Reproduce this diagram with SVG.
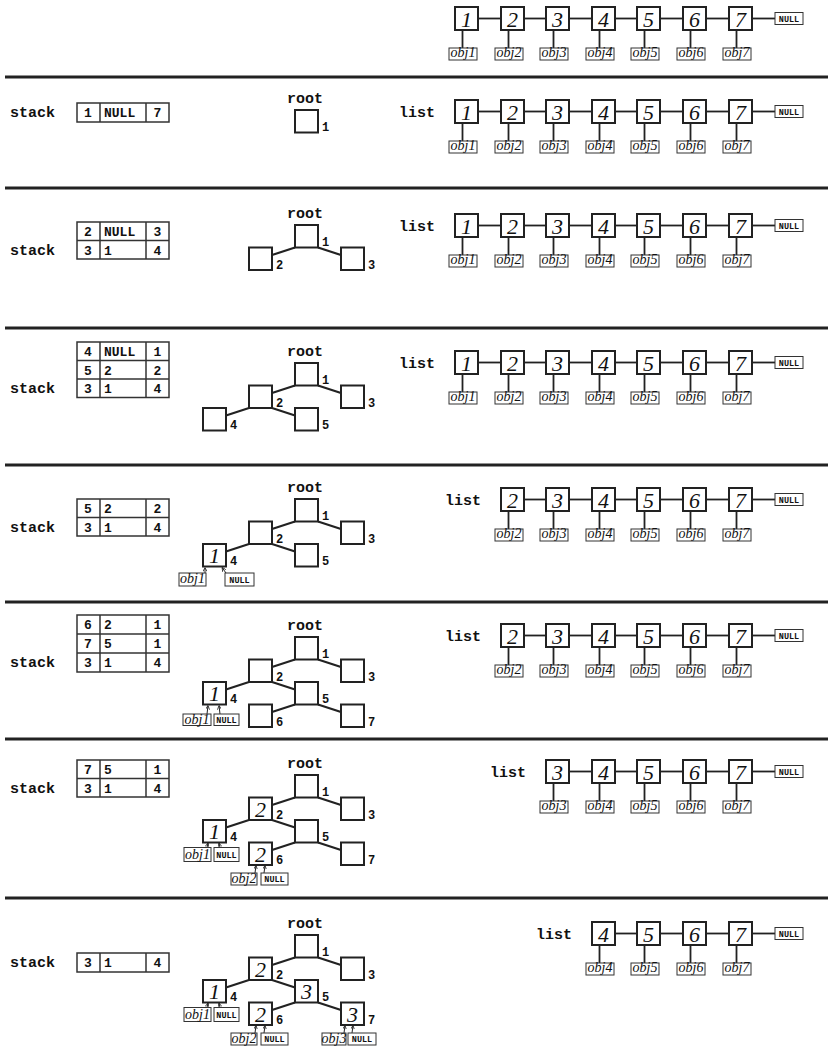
<svg xmlns="http://www.w3.org/2000/svg" width="833" height="1046" viewBox="0 0 833 1046">
<style>
.sep{stroke:#222;stroke-width:3}
.lb{fill:#fff;stroke:#222;stroke-width:2}
.ob{fill:#fff;stroke:#333;stroke-width:1}
.tb{fill:#fff;stroke:#222;stroke-width:2}
.tab{fill:none;stroke:#333;stroke-width:1.5}
.conn line{stroke:#222;stroke-width:1.8}
.edges line{stroke:#222;stroke-width:2.2}
.ptr line{stroke:#222;stroke-width:1}
.lbl{font-family:"Liberation Mono",monospace;font-weight:bold;font-size:15px;fill:#111}
.num{font-family:"Liberation Serif",serif;font-style:italic;font-size:22px;text-anchor:middle;fill:#111}
.obj{font-family:"Liberation Serif",serif;font-style:italic;font-size:14px;text-anchor:middle;fill:#111}
.nul{font-family:"Liberation Mono",monospace;font-weight:bold;font-size:8.5px;text-anchor:middle;fill:#111}
.cell{font-family:"Liberation Mono",monospace;font-weight:bold;font-size:13px;fill:#111}
.c1,.c3{text-anchor:middle}
.tl{font-family:"Liberation Mono",monospace;font-weight:bold;font-size:12px;fill:#111}
.root{font-family:"Liberation Mono",monospace;font-weight:bold;font-size:15px;text-anchor:middle;fill:#111}
</style>
<defs>
<marker id="ah" viewBox="0 0 6 6" refX="6" refY="3" markerWidth="4" markerHeight="4" orient="auto" markerUnits="userSpaceOnUse"><path d="M0,0 L6,3 L0,6" fill="none" stroke="#222" stroke-width="1.2"/></marker>
</defs>

<g id="separators">
<line class="sep" x1="5" y1="77" x2="828" y2="77"/>
<line class="sep" x1="5" y1="188" x2="828" y2="188"/>
<line class="sep" x1="5" y1="328" x2="828" y2="328"/>
<line class="sep" x1="5" y1="465" x2="828" y2="465"/>
<line class="sep" x1="5" y1="602" x2="828" y2="602"/>
<line class="sep" x1="5" y1="739" x2="828" y2="739"/>
<line class="sep" x1="5" y1="898" x2="828" y2="898"/>
</g>

<!-- ===== LIST ROWS ===== -->
<g id="list0" transform="translate(0,7)">
<g class="conn">
<line x1="478" y1="11.5" x2="501" y2="11.5"/><line x1="524" y1="11.5" x2="546" y2="11.5"/><line x1="569" y1="11.5" x2="592" y2="11.5"/><line x1="615" y1="11.5" x2="637" y2="11.5"/><line x1="660" y1="11.5" x2="683" y2="11.5"/><line x1="706" y1="11.5" x2="729" y2="11.5"/><line x1="752" y1="11.5" x2="775" y2="11.5"/>
<line x1="462.5" y1="23" x2="462.5" y2="41"/><line x1="508.5" y1="23" x2="508.5" y2="41"/><line x1="553.5" y1="23" x2="553.5" y2="41"/><line x1="599.5" y1="23" x2="599.5" y2="41"/><line x1="644.5" y1="23" x2="644.5" y2="41"/><line x1="690.5" y1="23" x2="690.5" y2="41"/><line x1="736.5" y1="23" x2="736.5" y2="41"/>
</g>
<g id="l0-1"><rect class="lb" x="455" y="0" width="23" height="23"/><text class="num" x="466.5" y="19.5">1</text></g>
<g id="l0-2"><rect class="lb" x="501" y="0" width="23" height="23"/><text class="num" x="512.5" y="19.5">2</text></g>
<g id="l0-3"><rect class="lb" x="546" y="0" width="23" height="23"/><text class="num" x="557.5" y="19.5">3</text></g>
<g id="l0-4"><rect class="lb" x="592" y="0" width="23" height="23"/><text class="num" x="603.5" y="19.5">4</text></g>
<g id="l0-5"><rect class="lb" x="637" y="0" width="23" height="23"/><text class="num" x="648.5" y="19.5">5</text></g>
<g id="l0-6"><rect class="lb" x="683" y="0" width="23" height="23"/><text class="num" x="694.5" y="19.5">6</text></g>
<g id="l0-7"><rect class="lb" x="729" y="0" width="23" height="23"/><text class="num" x="740.5" y="19.5">7</text></g>
<g id="l0-obj1"><rect class="ob" x="449" y="41" width="28" height="12"/><text class="obj" x="463" y="50">obj1</text></g>
<g id="l0-obj2"><rect class="ob" x="495" y="41" width="28" height="12"/><text class="obj" x="509" y="50">obj2</text></g>
<g id="l0-obj3"><rect class="ob" x="540" y="41" width="28" height="12"/><text class="obj" x="554" y="50">obj3</text></g>
<g id="l0-obj4"><rect class="ob" x="586" y="41" width="28" height="12"/><text class="obj" x="600" y="50">obj4</text></g>
<g id="l0-obj5"><rect class="ob" x="631" y="41" width="28" height="12"/><text class="obj" x="645" y="50">obj5</text></g>
<g id="l0-obj6"><rect class="ob" x="677" y="41" width="28" height="12"/><text class="obj" x="691" y="50">obj6</text></g>
<g id="l0-obj7"><rect class="ob" x="723" y="41" width="28" height="12"/><text class="obj" x="737" y="50">obj7</text></g>
<g id="l0-null"><rect class="ob" x="775" y="5.5" width="28" height="12"/><text class="nul" x="789" y="14.5">NULL</text></g>
</g>

<g id="list1" transform="translate(0,100)">
<text class="lbl" x="435" y="16.5" text-anchor="end">list</text>
<g class="conn">
<line x1="478" y1="11.5" x2="501" y2="11.5"/><line x1="524" y1="11.5" x2="546" y2="11.5"/><line x1="569" y1="11.5" x2="592" y2="11.5"/><line x1="615" y1="11.5" x2="637" y2="11.5"/><line x1="660" y1="11.5" x2="683" y2="11.5"/><line x1="706" y1="11.5" x2="729" y2="11.5"/><line x1="752" y1="11.5" x2="775" y2="11.5"/>
<line x1="462.5" y1="23" x2="462.5" y2="41"/><line x1="508.5" y1="23" x2="508.5" y2="41"/><line x1="553.5" y1="23" x2="553.5" y2="41"/><line x1="599.5" y1="23" x2="599.5" y2="41"/><line x1="644.5" y1="23" x2="644.5" y2="41"/><line x1="690.5" y1="23" x2="690.5" y2="41"/><line x1="736.5" y1="23" x2="736.5" y2="41"/>
</g>
<g id="l1-1"><rect class="lb" x="455" y="0" width="23" height="23"/><text class="num" x="466.5" y="19.5">1</text></g>
<g id="l1-2"><rect class="lb" x="501" y="0" width="23" height="23"/><text class="num" x="512.5" y="19.5">2</text></g>
<g id="l1-3"><rect class="lb" x="546" y="0" width="23" height="23"/><text class="num" x="557.5" y="19.5">3</text></g>
<g id="l1-4"><rect class="lb" x="592" y="0" width="23" height="23"/><text class="num" x="603.5" y="19.5">4</text></g>
<g id="l1-5"><rect class="lb" x="637" y="0" width="23" height="23"/><text class="num" x="648.5" y="19.5">5</text></g>
<g id="l1-6"><rect class="lb" x="683" y="0" width="23" height="23"/><text class="num" x="694.5" y="19.5">6</text></g>
<g id="l1-7"><rect class="lb" x="729" y="0" width="23" height="23"/><text class="num" x="740.5" y="19.5">7</text></g>
<g id="l1-obj1"><rect class="ob" x="449" y="41" width="28" height="12"/><text class="obj" x="463" y="50">obj1</text></g>
<g id="l1-obj2"><rect class="ob" x="495" y="41" width="28" height="12"/><text class="obj" x="509" y="50">obj2</text></g>
<g id="l1-obj3"><rect class="ob" x="540" y="41" width="28" height="12"/><text class="obj" x="554" y="50">obj3</text></g>
<g id="l1-obj4"><rect class="ob" x="586" y="41" width="28" height="12"/><text class="obj" x="600" y="50">obj4</text></g>
<g id="l1-obj5"><rect class="ob" x="631" y="41" width="28" height="12"/><text class="obj" x="645" y="50">obj5</text></g>
<g id="l1-obj6"><rect class="ob" x="677" y="41" width="28" height="12"/><text class="obj" x="691" y="50">obj6</text></g>
<g id="l1-obj7"><rect class="ob" x="723" y="41" width="28" height="12"/><text class="obj" x="737" y="50">obj7</text></g>
<g id="l1-null"><rect class="ob" x="775" y="5.5" width="28" height="12"/><text class="nul" x="789" y="14.5">NULL</text></g>
</g>

<g id="list2" transform="translate(0,214)">
<text class="lbl" x="435" y="16.5" text-anchor="end">list</text>
<g class="conn">
<line x1="478" y1="11.5" x2="501" y2="11.5"/><line x1="524" y1="11.5" x2="546" y2="11.5"/><line x1="569" y1="11.5" x2="592" y2="11.5"/><line x1="615" y1="11.5" x2="637" y2="11.5"/><line x1="660" y1="11.5" x2="683" y2="11.5"/><line x1="706" y1="11.5" x2="729" y2="11.5"/><line x1="752" y1="11.5" x2="775" y2="11.5"/>
<line x1="462.5" y1="23" x2="462.5" y2="41"/><line x1="508.5" y1="23" x2="508.5" y2="41"/><line x1="553.5" y1="23" x2="553.5" y2="41"/><line x1="599.5" y1="23" x2="599.5" y2="41"/><line x1="644.5" y1="23" x2="644.5" y2="41"/><line x1="690.5" y1="23" x2="690.5" y2="41"/><line x1="736.5" y1="23" x2="736.5" y2="41"/>
</g>
<g id="l2-1"><rect class="lb" x="455" y="0" width="23" height="23"/><text class="num" x="466.5" y="19.5">1</text></g>
<g id="l2-2"><rect class="lb" x="501" y="0" width="23" height="23"/><text class="num" x="512.5" y="19.5">2</text></g>
<g id="l2-3"><rect class="lb" x="546" y="0" width="23" height="23"/><text class="num" x="557.5" y="19.5">3</text></g>
<g id="l2-4"><rect class="lb" x="592" y="0" width="23" height="23"/><text class="num" x="603.5" y="19.5">4</text></g>
<g id="l2-5"><rect class="lb" x="637" y="0" width="23" height="23"/><text class="num" x="648.5" y="19.5">5</text></g>
<g id="l2-6"><rect class="lb" x="683" y="0" width="23" height="23"/><text class="num" x="694.5" y="19.5">6</text></g>
<g id="l2-7"><rect class="lb" x="729" y="0" width="23" height="23"/><text class="num" x="740.5" y="19.5">7</text></g>
<g id="l2-obj1"><rect class="ob" x="449" y="41" width="28" height="12"/><text class="obj" x="463" y="50">obj1</text></g>
<g id="l2-obj2"><rect class="ob" x="495" y="41" width="28" height="12"/><text class="obj" x="509" y="50">obj2</text></g>
<g id="l2-obj3"><rect class="ob" x="540" y="41" width="28" height="12"/><text class="obj" x="554" y="50">obj3</text></g>
<g id="l2-obj4"><rect class="ob" x="586" y="41" width="28" height="12"/><text class="obj" x="600" y="50">obj4</text></g>
<g id="l2-obj5"><rect class="ob" x="631" y="41" width="28" height="12"/><text class="obj" x="645" y="50">obj5</text></g>
<g id="l2-obj6"><rect class="ob" x="677" y="41" width="28" height="12"/><text class="obj" x="691" y="50">obj6</text></g>
<g id="l2-obj7"><rect class="ob" x="723" y="41" width="28" height="12"/><text class="obj" x="737" y="50">obj7</text></g>
<g id="l2-null"><rect class="ob" x="775" y="5.5" width="28" height="12"/><text class="nul" x="789" y="14.5">NULL</text></g>
</g>

<g id="list3" transform="translate(0,351)">
<text class="lbl" x="435" y="16.5" text-anchor="end">list</text>
<g class="conn">
<line x1="478" y1="11.5" x2="501" y2="11.5"/><line x1="524" y1="11.5" x2="546" y2="11.5"/><line x1="569" y1="11.5" x2="592" y2="11.5"/><line x1="615" y1="11.5" x2="637" y2="11.5"/><line x1="660" y1="11.5" x2="683" y2="11.5"/><line x1="706" y1="11.5" x2="729" y2="11.5"/><line x1="752" y1="11.5" x2="775" y2="11.5"/>
<line x1="462.5" y1="23" x2="462.5" y2="41"/><line x1="508.5" y1="23" x2="508.5" y2="41"/><line x1="553.5" y1="23" x2="553.5" y2="41"/><line x1="599.5" y1="23" x2="599.5" y2="41"/><line x1="644.5" y1="23" x2="644.5" y2="41"/><line x1="690.5" y1="23" x2="690.5" y2="41"/><line x1="736.5" y1="23" x2="736.5" y2="41"/>
</g>
<g id="l3-1"><rect class="lb" x="455" y="0" width="23" height="23"/><text class="num" x="466.5" y="19.5">1</text></g>
<g id="l3-2"><rect class="lb" x="501" y="0" width="23" height="23"/><text class="num" x="512.5" y="19.5">2</text></g>
<g id="l3-3"><rect class="lb" x="546" y="0" width="23" height="23"/><text class="num" x="557.5" y="19.5">3</text></g>
<g id="l3-4"><rect class="lb" x="592" y="0" width="23" height="23"/><text class="num" x="603.5" y="19.5">4</text></g>
<g id="l3-5"><rect class="lb" x="637" y="0" width="23" height="23"/><text class="num" x="648.5" y="19.5">5</text></g>
<g id="l3-6"><rect class="lb" x="683" y="0" width="23" height="23"/><text class="num" x="694.5" y="19.5">6</text></g>
<g id="l3-7"><rect class="lb" x="729" y="0" width="23" height="23"/><text class="num" x="740.5" y="19.5">7</text></g>
<g id="l3-obj1"><rect class="ob" x="449" y="41" width="28" height="12"/><text class="obj" x="463" y="50">obj1</text></g>
<g id="l3-obj2"><rect class="ob" x="495" y="41" width="28" height="12"/><text class="obj" x="509" y="50">obj2</text></g>
<g id="l3-obj3"><rect class="ob" x="540" y="41" width="28" height="12"/><text class="obj" x="554" y="50">obj3</text></g>
<g id="l3-obj4"><rect class="ob" x="586" y="41" width="28" height="12"/><text class="obj" x="600" y="50">obj4</text></g>
<g id="l3-obj5"><rect class="ob" x="631" y="41" width="28" height="12"/><text class="obj" x="645" y="50">obj5</text></g>
<g id="l3-obj6"><rect class="ob" x="677" y="41" width="28" height="12"/><text class="obj" x="691" y="50">obj6</text></g>
<g id="l3-obj7"><rect class="ob" x="723" y="41" width="28" height="12"/><text class="obj" x="737" y="50">obj7</text></g>
<g id="l3-null"><rect class="ob" x="775" y="5.5" width="28" height="12"/><text class="nul" x="789" y="14.5">NULL</text></g>
</g>

<g id="list4" transform="translate(0,488)">
<text class="lbl" x="481" y="16.5" text-anchor="end">list</text>
<g class="conn">
<line x1="524" y1="11.5" x2="546" y2="11.5"/><line x1="569" y1="11.5" x2="592" y2="11.5"/><line x1="615" y1="11.5" x2="637" y2="11.5"/><line x1="660" y1="11.5" x2="683" y2="11.5"/><line x1="706" y1="11.5" x2="729" y2="11.5"/><line x1="752" y1="11.5" x2="775" y2="11.5"/>
<line x1="508.5" y1="23" x2="508.5" y2="41"/><line x1="553.5" y1="23" x2="553.5" y2="41"/><line x1="599.5" y1="23" x2="599.5" y2="41"/><line x1="644.5" y1="23" x2="644.5" y2="41"/><line x1="690.5" y1="23" x2="690.5" y2="41"/><line x1="736.5" y1="23" x2="736.5" y2="41"/>
</g>
<g id="l4-2"><rect class="lb" x="501" y="0" width="23" height="23"/><text class="num" x="512.5" y="19.5">2</text></g>
<g id="l4-3"><rect class="lb" x="546" y="0" width="23" height="23"/><text class="num" x="557.5" y="19.5">3</text></g>
<g id="l4-4"><rect class="lb" x="592" y="0" width="23" height="23"/><text class="num" x="603.5" y="19.5">4</text></g>
<g id="l4-5"><rect class="lb" x="637" y="0" width="23" height="23"/><text class="num" x="648.5" y="19.5">5</text></g>
<g id="l4-6"><rect class="lb" x="683" y="0" width="23" height="23"/><text class="num" x="694.5" y="19.5">6</text></g>
<g id="l4-7"><rect class="lb" x="729" y="0" width="23" height="23"/><text class="num" x="740.5" y="19.5">7</text></g>
<g id="l4-obj2"><rect class="ob" x="495" y="41" width="28" height="12"/><text class="obj" x="509" y="50">obj2</text></g>
<g id="l4-obj3"><rect class="ob" x="540" y="41" width="28" height="12"/><text class="obj" x="554" y="50">obj3</text></g>
<g id="l4-obj4"><rect class="ob" x="586" y="41" width="28" height="12"/><text class="obj" x="600" y="50">obj4</text></g>
<g id="l4-obj5"><rect class="ob" x="631" y="41" width="28" height="12"/><text class="obj" x="645" y="50">obj5</text></g>
<g id="l4-obj6"><rect class="ob" x="677" y="41" width="28" height="12"/><text class="obj" x="691" y="50">obj6</text></g>
<g id="l4-obj7"><rect class="ob" x="723" y="41" width="28" height="12"/><text class="obj" x="737" y="50">obj7</text></g>
<g id="l4-null"><rect class="ob" x="775" y="5.5" width="28" height="12"/><text class="nul" x="789" y="14.5">NULL</text></g>
</g>

<g id="list5" transform="translate(0,624)">
<text class="lbl" x="481" y="16.5" text-anchor="end">list</text>
<g class="conn">
<line x1="524" y1="11.5" x2="546" y2="11.5"/><line x1="569" y1="11.5" x2="592" y2="11.5"/><line x1="615" y1="11.5" x2="637" y2="11.5"/><line x1="660" y1="11.5" x2="683" y2="11.5"/><line x1="706" y1="11.5" x2="729" y2="11.5"/><line x1="752" y1="11.5" x2="775" y2="11.5"/>
<line x1="508.5" y1="23" x2="508.5" y2="41"/><line x1="553.5" y1="23" x2="553.5" y2="41"/><line x1="599.5" y1="23" x2="599.5" y2="41"/><line x1="644.5" y1="23" x2="644.5" y2="41"/><line x1="690.5" y1="23" x2="690.5" y2="41"/><line x1="736.5" y1="23" x2="736.5" y2="41"/>
</g>
<g id="l5-2"><rect class="lb" x="501" y="0" width="23" height="23"/><text class="num" x="512.5" y="19.5">2</text></g>
<g id="l5-3"><rect class="lb" x="546" y="0" width="23" height="23"/><text class="num" x="557.5" y="19.5">3</text></g>
<g id="l5-4"><rect class="lb" x="592" y="0" width="23" height="23"/><text class="num" x="603.5" y="19.5">4</text></g>
<g id="l5-5"><rect class="lb" x="637" y="0" width="23" height="23"/><text class="num" x="648.5" y="19.5">5</text></g>
<g id="l5-6"><rect class="lb" x="683" y="0" width="23" height="23"/><text class="num" x="694.5" y="19.5">6</text></g>
<g id="l5-7"><rect class="lb" x="729" y="0" width="23" height="23"/><text class="num" x="740.5" y="19.5">7</text></g>
<g id="l5-obj2"><rect class="ob" x="495" y="41" width="28" height="12"/><text class="obj" x="509" y="50">obj2</text></g>
<g id="l5-obj3"><rect class="ob" x="540" y="41" width="28" height="12"/><text class="obj" x="554" y="50">obj3</text></g>
<g id="l5-obj4"><rect class="ob" x="586" y="41" width="28" height="12"/><text class="obj" x="600" y="50">obj4</text></g>
<g id="l5-obj5"><rect class="ob" x="631" y="41" width="28" height="12"/><text class="obj" x="645" y="50">obj5</text></g>
<g id="l5-obj6"><rect class="ob" x="677" y="41" width="28" height="12"/><text class="obj" x="691" y="50">obj6</text></g>
<g id="l5-obj7"><rect class="ob" x="723" y="41" width="28" height="12"/><text class="obj" x="737" y="50">obj7</text></g>
<g id="l5-null"><rect class="ob" x="775" y="5.5" width="28" height="12"/><text class="nul" x="789" y="14.5">NULL</text></g>
</g>

<g id="list6" transform="translate(0,760)">
<text class="lbl" x="526" y="16.5" text-anchor="end">list</text>
<g class="conn">
<line x1="569" y1="11.5" x2="592" y2="11.5"/><line x1="615" y1="11.5" x2="637" y2="11.5"/><line x1="660" y1="11.5" x2="683" y2="11.5"/><line x1="706" y1="11.5" x2="729" y2="11.5"/><line x1="752" y1="11.5" x2="775" y2="11.5"/>
<line x1="553.5" y1="23" x2="553.5" y2="41"/><line x1="599.5" y1="23" x2="599.5" y2="41"/><line x1="644.5" y1="23" x2="644.5" y2="41"/><line x1="690.5" y1="23" x2="690.5" y2="41"/><line x1="736.5" y1="23" x2="736.5" y2="41"/>
</g>
<g id="l6-3"><rect class="lb" x="546" y="0" width="23" height="23"/><text class="num" x="557.5" y="19.5">3</text></g>
<g id="l6-4"><rect class="lb" x="592" y="0" width="23" height="23"/><text class="num" x="603.5" y="19.5">4</text></g>
<g id="l6-5"><rect class="lb" x="637" y="0" width="23" height="23"/><text class="num" x="648.5" y="19.5">5</text></g>
<g id="l6-6"><rect class="lb" x="683" y="0" width="23" height="23"/><text class="num" x="694.5" y="19.5">6</text></g>
<g id="l6-7"><rect class="lb" x="729" y="0" width="23" height="23"/><text class="num" x="740.5" y="19.5">7</text></g>
<g id="l6-obj3"><rect class="ob" x="540" y="41" width="28" height="12"/><text class="obj" x="554" y="50">obj3</text></g>
<g id="l6-obj4"><rect class="ob" x="586" y="41" width="28" height="12"/><text class="obj" x="600" y="50">obj4</text></g>
<g id="l6-obj5"><rect class="ob" x="631" y="41" width="28" height="12"/><text class="obj" x="645" y="50">obj5</text></g>
<g id="l6-obj6"><rect class="ob" x="677" y="41" width="28" height="12"/><text class="obj" x="691" y="50">obj6</text></g>
<g id="l6-obj7"><rect class="ob" x="723" y="41" width="28" height="12"/><text class="obj" x="737" y="50">obj7</text></g>
<g id="l6-null"><rect class="ob" x="775" y="5.5" width="28" height="12"/><text class="nul" x="789" y="14.5">NULL</text></g>
</g>

<g id="list7" transform="translate(0,922)">
<text class="lbl" x="572" y="16.5" text-anchor="end">list</text>
<g class="conn">
<line x1="615" y1="11.5" x2="637" y2="11.5"/><line x1="660" y1="11.5" x2="683" y2="11.5"/><line x1="706" y1="11.5" x2="729" y2="11.5"/><line x1="752" y1="11.5" x2="775" y2="11.5"/>
<line x1="599.5" y1="23" x2="599.5" y2="41"/><line x1="644.5" y1="23" x2="644.5" y2="41"/><line x1="690.5" y1="23" x2="690.5" y2="41"/><line x1="736.5" y1="23" x2="736.5" y2="41"/>
</g>
<g id="l7-4"><rect class="lb" x="592" y="0" width="23" height="23"/><text class="num" x="603.5" y="19.5">4</text></g>
<g id="l7-5"><rect class="lb" x="637" y="0" width="23" height="23"/><text class="num" x="648.5" y="19.5">5</text></g>
<g id="l7-6"><rect class="lb" x="683" y="0" width="23" height="23"/><text class="num" x="694.5" y="19.5">6</text></g>
<g id="l7-7"><rect class="lb" x="729" y="0" width="23" height="23"/><text class="num" x="740.5" y="19.5">7</text></g>
<g id="l7-obj4"><rect class="ob" x="586" y="41" width="28" height="12"/><text class="obj" x="600" y="50">obj4</text></g>
<g id="l7-obj5"><rect class="ob" x="631" y="41" width="28" height="12"/><text class="obj" x="645" y="50">obj5</text></g>
<g id="l7-obj6"><rect class="ob" x="677" y="41" width="28" height="12"/><text class="obj" x="691" y="50">obj6</text></g>
<g id="l7-obj7"><rect class="ob" x="723" y="41" width="28" height="12"/><text class="obj" x="737" y="50">obj7</text></g>
<g id="l7-null"><rect class="ob" x="775" y="5.5" width="28" height="12"/><text class="nul" x="789" y="14.5">NULL</text></g>
</g>

<!-- ===== STACKS ===== -->
<g id="stack1">
<text class="lbl" x="10" y="117">stack</text>
<rect class="tab" x="77" y="103" width="92" height="19"/>
<line class="tab" x1="100" y1="103" x2="100" y2="122"/><line class="tab" x1="146" y1="103" x2="146" y2="122"/>
<text class="cell c1" x="88" y="117">1</text><text class="cell" x="104" y="117">NULL</text><text class="cell c3" x="157.5" y="117">7</text>
</g>
<g id="stack2">
<text class="lbl" x="10" y="255">stack</text>
<rect class="tab" x="77" y="222" width="92" height="37"/>
<line class="tab" x1="77" y1="240.5" x2="169" y2="240.5"/>
<line class="tab" x1="100" y1="222" x2="100" y2="259"/><line class="tab" x1="146" y1="222" x2="146" y2="259"/>
<text class="cell c1" x="88" y="236">2</text><text class="cell" x="104" y="236">NULL</text><text class="cell c3" x="157.5" y="236">3</text>
<text class="cell c1" x="88" y="254.5">3</text><text class="cell" x="104" y="254.5">1</text><text class="cell c3" x="157.5" y="254.5">4</text>
</g>
<g id="stack3">
<text class="lbl" x="10" y="393">stack</text>
<rect class="tab" x="77" y="342" width="92" height="55.5"/>
<line class="tab" x1="77" y1="360.5" x2="169" y2="360.5"/><line class="tab" x1="77" y1="379" x2="169" y2="379"/>
<line class="tab" x1="100" y1="342" x2="100" y2="397.5"/><line class="tab" x1="146" y1="342" x2="146" y2="397.5"/>
<text class="cell c1" x="88" y="356">4</text><text class="cell" x="104" y="356">NULL</text><text class="cell c3" x="157.5" y="356">1</text>
<text class="cell c1" x="88" y="374.5">5</text><text class="cell" x="104" y="374.5">2</text><text class="cell c3" x="157.5" y="374.5">2</text>
<text class="cell c1" x="88" y="393">3</text><text class="cell" x="104" y="393">1</text><text class="cell c3" x="157.5" y="393">4</text>
</g>
<g id="stack4">
<text class="lbl" x="10" y="532">stack</text>
<rect class="tab" x="77" y="499" width="92" height="37"/>
<line class="tab" x1="77" y1="517.5" x2="169" y2="517.5"/>
<line class="tab" x1="100" y1="499" x2="100" y2="536"/><line class="tab" x1="146" y1="499" x2="146" y2="536"/>
<text class="cell c1" x="88" y="513">5</text><text class="cell" x="104" y="513">2</text><text class="cell c3" x="157.5" y="513">2</text>
<text class="cell c1" x="88" y="531.5">3</text><text class="cell" x="104" y="531.5">1</text><text class="cell c3" x="157.5" y="531.5">4</text>
</g>
<g id="stack5">
<text class="lbl" x="10" y="667">stack</text>
<rect class="tab" x="77" y="615" width="92" height="57"/>
<line class="tab" x1="77" y1="634" x2="169" y2="634"/><line class="tab" x1="77" y1="653" x2="169" y2="653"/>
<line class="tab" x1="100" y1="615" x2="100" y2="672"/><line class="tab" x1="146" y1="615" x2="146" y2="672"/>
<text class="cell c1" x="88" y="629">6</text><text class="cell" x="104" y="629">2</text><text class="cell c3" x="157.5" y="629">1</text>
<text class="cell c1" x="88" y="648">7</text><text class="cell" x="104" y="648">5</text><text class="cell c3" x="157.5" y="648">1</text>
<text class="cell c1" x="88" y="667">3</text><text class="cell" x="104" y="667">1</text><text class="cell c3" x="157.5" y="667">4</text>
</g>
<g id="stack6">
<text class="lbl" x="10" y="793">stack</text>
<rect class="tab" x="77" y="760" width="92" height="37"/>
<line class="tab" x1="77" y1="778.5" x2="169" y2="778.5"/>
<line class="tab" x1="100" y1="760" x2="100" y2="797"/><line class="tab" x1="146" y1="760" x2="146" y2="797"/>
<text class="cell c1" x="88" y="774">7</text><text class="cell" x="104" y="774">5</text><text class="cell c3" x="157.5" y="774">1</text>
<text class="cell c1" x="88" y="792.5">3</text><text class="cell" x="104" y="792.5">1</text><text class="cell c3" x="157.5" y="792.5">4</text>
</g>
<g id="stack7">
<text class="lbl" x="10" y="967">stack</text>
<rect class="tab" x="77" y="953" width="92" height="19"/>
<line class="tab" x1="100" y1="953" x2="100" y2="972"/><line class="tab" x1="146" y1="953" x2="146" y2="972"/>
<text class="cell c1" x="88" y="967">3</text><text class="cell" x="104" y="967">1</text><text class="cell c3" x="157.5" y="967">4</text>
</g>

<!-- ===== TREES ===== -->
<g id="tree1" transform="translate(0,110)">
<text class="root" x="305" y="-7.5">root</text>
<g id="t1-n1"><rect class="tb" x="295" y="0" width="23" height="22.5"/><text class="tl" x="322" y="21">1</text></g>
</g>

<g id="tree2" transform="translate(0,225)">
<text class="root" x="305" y="-7.5">root</text>
<g class="edges"><line x1="295" y1="22.5" x2="272" y2="30"/><line x1="318" y1="22.5" x2="341" y2="30"/></g>
<g id="t2-n1"><rect class="tb" x="295" y="0" width="23" height="22.5"/><text class="tl" x="322" y="21">1</text></g>
<g id="t2-n2"><rect class="tb" x="249" y="22.5" width="23" height="22.5"/><text class="tl" x="276" y="43.5">2</text></g>
<g id="t2-n3"><rect class="tb" x="341" y="22.5" width="23" height="22.5"/><text class="tl" x="368" y="43.5">3</text></g>
</g>

<g id="tree3" transform="translate(0,363)">
<text class="root" x="305" y="-7.5">root</text>
<g class="edges"><line x1="295" y1="22.5" x2="272" y2="30"/><line x1="318" y1="22.5" x2="341" y2="30"/><line x1="249" y1="45" x2="226" y2="52.5"/><line x1="272" y1="45" x2="295" y2="52.5"/></g>
<g id="t3-n1"><rect class="tb" x="295" y="0" width="23" height="22.5"/><text class="tl" x="322" y="21">1</text></g>
<g id="t3-n2"><rect class="tb" x="249" y="22.5" width="23" height="22.5"/><text class="tl" x="276" y="43.5">2</text></g>
<g id="t3-n3"><rect class="tb" x="341" y="22.5" width="23" height="22.5"/><text class="tl" x="368" y="43.5">3</text></g>
<g id="t3-n4"><rect class="tb" x="203" y="45" width="23" height="22.5"/><text class="tl" x="230" y="66">4</text></g>
<g id="t3-n5"><rect class="tb" x="295" y="45" width="23" height="22.5"/><text class="tl" x="322" y="66">5</text></g>
</g>

<g id="tree4" transform="translate(0,499)">
<text class="root" x="305" y="-7.5">root</text>
<g class="edges"><line x1="295" y1="22.5" x2="272" y2="30"/><line x1="318" y1="22.5" x2="341" y2="30"/><line x1="249" y1="45" x2="226" y2="52.5"/><line x1="272" y1="45" x2="295" y2="52.5"/></g>
<g class="ptr"><line x1="205" y1="74" x2="205" y2="68.5" marker-end="url(#ah)"/><line x1="226" y1="74" x2="222" y2="68.5" marker-end="url(#ah)"/></g>
<g id="t4-n1"><rect class="tb" x="295" y="0" width="23" height="22.5"/><text class="tl" x="322" y="21">1</text></g>
<g id="t4-n2"><rect class="tb" x="249" y="22.5" width="23" height="22.5"/><text class="tl" x="276" y="43.5">2</text></g>
<g id="t4-n3"><rect class="tb" x="341" y="22.5" width="23" height="22.5"/><text class="tl" x="368" y="43.5">3</text></g>
<g id="t4-n4"><rect class="tb" x="203" y="45" width="23" height="22.5"/><text class="num" x="214.5" y="64">1</text><text class="tl" x="230" y="66">4</text></g>
<g id="t4-n5"><rect class="tb" x="295" y="45" width="23" height="22.5"/><text class="tl" x="322" y="66">5</text></g>
<g id="t4-obj1"><rect class="ob" x="179" y="74" width="27" height="13"/><text class="obj" x="192.5" y="84">obj1</text></g>
<g id="t4-null"><rect class="ob" x="225" y="74" width="29" height="13"/><text class="nul" x="239.5" y="83.5">NULL</text></g>
</g>

<g id="tree5" transform="translate(0,637)">
<text class="root" x="305" y="-7.5">root</text>
<g class="edges"><line x1="295" y1="22.5" x2="272" y2="30"/><line x1="318" y1="22.5" x2="341" y2="30"/><line x1="249" y1="45" x2="226" y2="52.5"/><line x1="272" y1="45" x2="295" y2="52.5"/><line x1="295" y1="67.5" x2="272" y2="75"/><line x1="318" y1="67.5" x2="341" y2="75"/></g>
<g class="ptr"><line x1="207" y1="77" x2="208" y2="68.5" marker-end="url(#ah)"/><line x1="220" y1="77" x2="219" y2="68.5" marker-end="url(#ah)"/></g>
<g id="t5-n1"><rect class="tb" x="295" y="0" width="23" height="22.5"/><text class="tl" x="322" y="21">1</text></g>
<g id="t5-n2"><rect class="tb" x="249" y="22.5" width="23" height="22.5"/><text class="tl" x="276" y="43.5">2</text></g>
<g id="t5-n3"><rect class="tb" x="341" y="22.5" width="23" height="22.5"/><text class="tl" x="368" y="43.5">3</text></g>
<g id="t5-n4"><rect class="tb" x="203" y="45" width="23" height="22.5"/><text class="num" x="214.5" y="64">1</text><text class="tl" x="230" y="66">4</text></g>
<g id="t5-n5"><rect class="tb" x="295" y="45" width="23" height="22.5"/><text class="tl" x="322" y="66">5</text></g>
<g id="t5-n6"><rect class="tb" x="249" y="67.5" width="23" height="22.5"/><text class="tl" x="276" y="88.5">6</text></g>
<g id="t5-n7"><rect class="tb" x="341" y="67.5" width="23" height="22.5"/><text class="tl" x="368" y="88.5">7</text></g>
<g id="t5-obj1"><rect class="ob" x="183" y="77" width="28" height="11.5"/><text class="obj" x="197" y="86.5">obj1</text></g>
<g id="t5-null"><rect class="ob" x="214" y="77" width="25" height="11.5"/><text class="nul" x="226.5" y="85.5">NULL</text></g>
</g>

<g id="tree6" transform="translate(0,775)">
<text class="root" x="305" y="-7.5">root</text>
<g class="edges"><line x1="295" y1="22.5" x2="272" y2="30"/><line x1="318" y1="22.5" x2="341" y2="30"/><line x1="249" y1="45" x2="226" y2="52.5"/><line x1="272" y1="45" x2="295" y2="52.5"/><line x1="295" y1="67.5" x2="272" y2="75"/><line x1="318" y1="67.5" x2="341" y2="75"/></g>
<g class="ptr"><line x1="207" y1="72.5" x2="208" y2="68" marker-end="url(#ah)"/><line x1="220" y1="72.5" x2="219" y2="68" marker-end="url(#ah)"/><line x1="255" y1="98" x2="256" y2="90.5" marker-end="url(#ah)"/><line x1="264" y1="98" x2="265" y2="90.5" marker-end="url(#ah)"/></g>
<g id="t6-n1"><rect class="tb" x="295" y="0" width="23" height="22.5"/><text class="tl" x="322" y="21">1</text></g>
<g id="t6-n2"><rect class="tb" x="249" y="22.5" width="23" height="22.5"/><text class="num" x="260.5" y="41.5">2</text><text class="tl" x="276" y="43.5">2</text></g>
<g id="t6-n3"><rect class="tb" x="341" y="22.5" width="23" height="22.5"/><text class="tl" x="368" y="43.5">3</text></g>
<g id="t6-n4"><rect class="tb" x="203" y="45" width="23" height="22.5"/><text class="num" x="214.5" y="64">1</text><text class="tl" x="230" y="66">4</text></g>
<g id="t6-n5"><rect class="tb" x="295" y="45" width="23" height="22.5"/><text class="tl" x="322" y="66">5</text></g>
<g id="t6-n6"><rect class="tb" x="249" y="67.5" width="23" height="22.5"/><text class="num" x="260.5" y="86.5">2</text><text class="tl" x="276" y="88.5">6</text></g>
<g id="t6-n7"><rect class="tb" x="341" y="67.5" width="23" height="22.5"/><text class="tl" x="368" y="88.5">7</text></g>
<g id="t6-obj1"><rect class="ob" x="184" y="72.5" width="27" height="14"/><text class="obj" x="197.5" y="83.5">obj1</text></g>
<g id="t6-null1"><rect class="ob" x="214" y="72.5" width="25" height="14"/><text class="nul" x="226.5" y="82.5">NULL</text></g>
<g id="t6-obj2"><rect class="ob" x="231" y="98" width="26" height="12"/><text class="obj" x="244" y="107.5">obj2</text></g>
<g id="t6-null2"><rect class="ob" x="261" y="98" width="27" height="12"/><text class="nul" x="274.5" y="107">NULL</text></g>
</g>

<g id="tree7" transform="translate(0,935)">
<text class="root" x="305" y="-7.5">root</text>
<g class="edges"><line x1="295" y1="22.5" x2="272" y2="30"/><line x1="318" y1="22.5" x2="341" y2="30"/><line x1="249" y1="45" x2="226" y2="52.5"/><line x1="272" y1="45" x2="295" y2="52.5"/><line x1="295" y1="67.5" x2="272" y2="75"/><line x1="318" y1="67.5" x2="341" y2="75"/></g>
<g class="ptr"><line x1="207" y1="72.5" x2="208" y2="68" marker-end="url(#ah)"/><line x1="220" y1="72.5" x2="219" y2="68" marker-end="url(#ah)"/><line x1="255" y1="98" x2="256" y2="90.5" marker-end="url(#ah)"/><line x1="264" y1="98" x2="265" y2="90.5" marker-end="url(#ah)"/><line x1="344" y1="98" x2="345" y2="90.5" marker-end="url(#ah)"/><line x1="352" y1="98" x2="353" y2="90.5" marker-end="url(#ah)"/></g>
<g id="t7-n1"><rect class="tb" x="295" y="0" width="23" height="22.5"/><text class="tl" x="322" y="21">1</text></g>
<g id="t7-n2"><rect class="tb" x="249" y="22.5" width="23" height="22.5"/><text class="num" x="260.5" y="41.5">2</text><text class="tl" x="276" y="43.5">2</text></g>
<g id="t7-n3"><rect class="tb" x="341" y="22.5" width="23" height="22.5"/><text class="tl" x="368" y="43.5">3</text></g>
<g id="t7-n4"><rect class="tb" x="203" y="45" width="23" height="22.5"/><text class="num" x="214.5" y="64">1</text><text class="tl" x="230" y="66">4</text></g>
<g id="t7-n5"><rect class="tb" x="295" y="45" width="23" height="22.5"/><text class="num" x="306.5" y="64">3</text><text class="tl" x="322" y="66">5</text></g>
<g id="t7-n6"><rect class="tb" x="249" y="67.5" width="23" height="22.5"/><text class="num" x="260.5" y="86.5">2</text><text class="tl" x="276" y="88.5">6</text></g>
<g id="t7-n7"><rect class="tb" x="341" y="67.5" width="23" height="22.5"/><text class="num" x="352.5" y="86.5">3</text><text class="tl" x="368" y="88.5">7</text></g>
<g id="t7-obj1"><rect class="ob" x="184" y="72.5" width="27" height="14"/><text class="obj" x="197.5" y="83.5">obj1</text></g>
<g id="t7-null1"><rect class="ob" x="214" y="72.5" width="25" height="14"/><text class="nul" x="226.5" y="82.5">NULL</text></g>
<g id="t7-obj2"><rect class="ob" x="231" y="98" width="26" height="12"/><text class="obj" x="244" y="107.5">obj2</text></g>
<g id="t7-null2"><rect class="ob" x="261" y="98" width="27" height="12"/><text class="nul" x="274.5" y="107">NULL</text></g>
<g id="t7-obj3"><rect class="ob" x="322" y="98" width="24" height="12"/><text class="obj" x="334" y="107.5">obj3</text></g>
<g id="t7-null3"><rect class="ob" x="348" y="98" width="28" height="12"/><text class="nul" x="362" y="107">NULL</text></g>
</g>
</svg>
